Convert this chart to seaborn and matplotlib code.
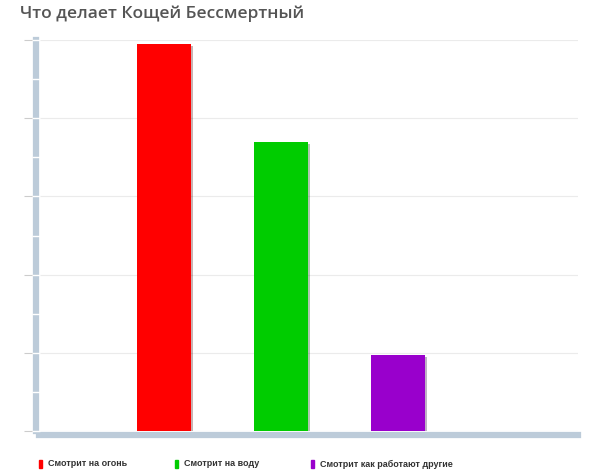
import matplotlib.pyplot as plt
import seaborn as sns
import pandas as pd
from matplotlib import patheffects
from matplotlib.patches import Rectangle

# данные
categories = ['Смотрит на огонь', 'Смотрит на воду', 'Смотрит как работают другие']
values = [4.95, 3.70, 0.97]
colors = ['#ff0000', '#00cc00', '#9900cc']
title = 'Что делает Кощей Бессмертный'

df = pd.DataFrame({'cat': categories, 'val': values})

sns.set_style('white')
plt.rcParams['font.family'] = ['DejaVu Sans']

fig = plt.figure(figsize=(6.04, 4.76), dpi=100)
ax = fig.add_axes([39 / 604, 45 / 476, 539 / 604, 391 / 476])

sns.barplot(data=df, x='cat', y='val', hue='cat', palette=colors, legend=False,
            width=0.46, saturation=1, linewidth=0, ax=ax)
for p in ax.patches:
    p.set_linewidth(0)
    p.set_zorder(3)
    p.set_path_effects([patheffects.withSimplePatchShadow(offset=(1.5, -1.5), alpha=0.3),
                        patheffects.Normal()])

ax.set_xlim(-1.07, 3.54)
ax.set_ylim(0, 5)
ax.set_yticks(range(6))
ax.set_yticks([i * 0.5 for i in range(11)], minor=True)
ax.yaxis.remove_overlapping_locs = False
ax.set_yticklabels([])
ax.set_xticks([])
ax.set_xlabel('')
ax.set_ylabel('')
ax.set_axisbelow(False)
ax.grid(axis='y', color='#ebebeb', linewidth=0.8)

for s in ['top', 'right']:
    ax.spines[s].set_visible(False)
ax.spines['left'].set_position(('outward', 2.5))
ax.spines['bottom'].set_position(('outward', 3))
for s in ['left', 'bottom']:
    ax.spines[s].set_color('#bccbd9')
    ax.spines[s].set_linewidth(4.5)
    ax.spines[s].set_zorder(2)
ax.tick_params(axis='y', which='major', left=True, direction='out', length=9,
               width=0.8, color='#cccccc', pad=0)
ax.tick_params(axis='y', which='minor', left=True, direction='inout', length=5.5,
               width=1, color='white')

fig.text(20 / 604, 1 - 14 / 476, title, fontsize=12.5, fontweight='semibold',
         color='#555555', va='center', ha='left', family='Open Sans')

# легенда
for i, (name, c) in enumerate(zip(categories, colors)):
    x0 = (39 + i * 136) / 604
    fig.patches.append(Rectangle((x0, 1 - 468 / 476), 3 / 604, 8 / 476,
                                 transform=fig.transFigure, color=c, figure=fig))
    fig.text(x0 + 9 / 604, 1 - 464 / 476, name, fontsize=6.5, fontweight='bold',
             color='#333333', va='center', ha='left', family='Liberation Sans')

fig.savefig('out.png', dpi=100)
